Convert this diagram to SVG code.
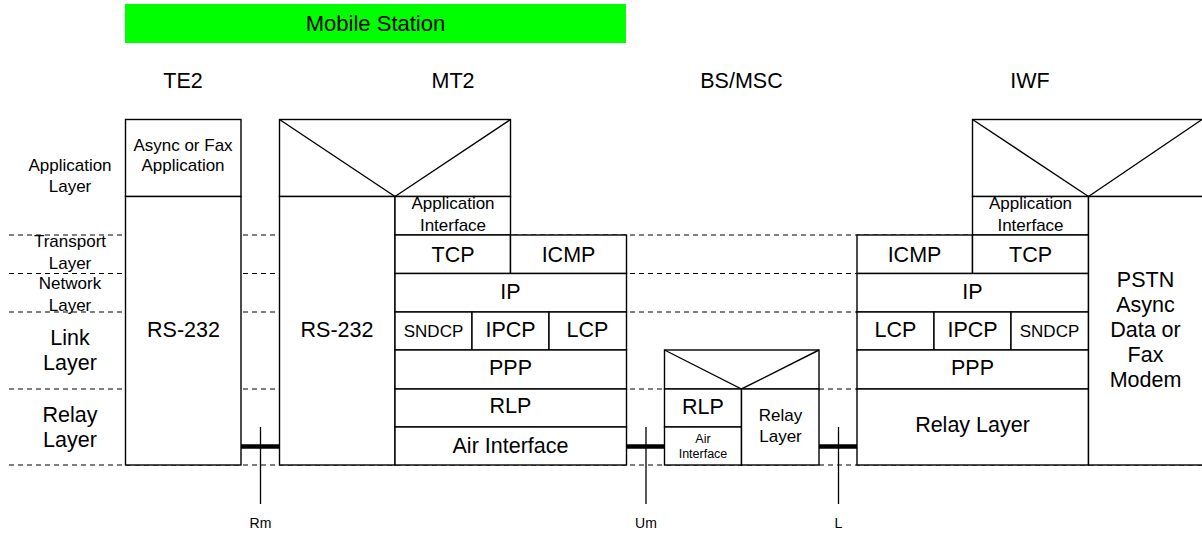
<svg xmlns="http://www.w3.org/2000/svg" width="1202" height="533" viewBox="0 0 1202 533">
<style>
text{font-family:"Liberation Sans",Arial,Helvetica,sans-serif;fill:#000;text-anchor:middle}
.L{font-size:21.5px}
.M{font-size:17px}
.S{font-size:12.5px}
.T{font-size:14px}
.box{fill:#fff;stroke:#000;stroke-width:1.4}
.ln{fill:none;stroke:#000;stroke-width:1.4}
.dash{fill:none;stroke:#000;stroke-width:1;stroke-dasharray:5 4}
.thick{stroke:#000;stroke-width:4.5}
.tick{stroke:#000;stroke-width:1.3}
</style>
<rect x="125" y="4" width="501" height="39" fill="#00ff00"/>
<text class="L" x="375.5" y="30.5" style="font-size:22px">Mobile Station</text>
<text class="L" x="183" y="88">TE2</text>
<text class="L" x="453" y="88">MT2</text>
<text class="L" x="741.5" y="88">BS/MSC</text>
<text class="L" x="1030" y="88">IWF</text>
<g id="layer-separators">
<line class="dash" x1="9" y1="235" x2="1202" y2="235"/>
<line class="dash" x1="9" y1="273.5" x2="1202" y2="273.5"/>
<line class="dash" x1="9" y1="312" x2="1202" y2="312"/>
<line class="dash" x1="9" y1="389" x2="1202" y2="389"/>
<line class="dash" x1="9" y1="465" x2="1202" y2="465"/>
</g>
<g id="layer-labels">
<text class="M" x="70" y="170.5">Application</text>
<text class="M" x="70" y="192">Layer</text>
<text class="M" x="70" y="247">Transport</text>
<text class="M" x="70" y="268.5">Layer</text>
<text class="M" x="70" y="289">Network</text>
<text class="M" x="70" y="310.5">Layer</text>
<text class="L" x="70" y="344.5">Link</text>
<text class="L" x="70" y="370">Layer</text>
<text class="L" x="70" y="421.5">Relay</text>
<text class="L" x="70" y="446.5">Layer</text>
</g>
<g id="te2-app">
<rect class="box" x="125.5" y="119.5" width="115.5" height="77"/>
<text class="M" x="183" y="150.5">Async or Fax</text>
<text class="M" x="183" y="170.5">Application</text>
</g>
<g id="te2-rs232">
<rect class="box" x="125.5" y="196.5" width="115.5" height="268.5"/>
<text class="L" x="183.5" y="336.7">RS-232</text>
</g>
<g id="mt2-app">
<rect class="box" x="279.5" y="119.5" width="231" height="77"/>
<polyline class="ln" points="279.5,119.5 395,196.5 510.5,119.5"/>
</g>
<g id="mt2-rs232">
<rect class="box" x="279.5" y="196.5" width="115.5" height="268.5"/>
<text class="L" x="337" y="336.7">RS-232</text>
</g>
<g id="mt2-appif">
<rect class="box" x="395" y="196.5" width="115.5" height="38.5"/>
<text class="M" x="453" y="209">Application</text>
<text class="M" x="453" y="230.5">Interface</text>
</g>
<g id="mt2-tcp">
<rect class="box" x="395" y="235" width="115.5" height="38.5"/>
<text class="L" x="453" y="261.7">TCP</text>
</g>
<g id="mt2-icmp">
<rect class="box" x="510.5" y="235" width="116" height="38.5"/>
<text class="L" x="568.5" y="261.7">ICMP</text>
</g>
<g id="mt2-ip">
<rect class="box" x="395" y="273.5" width="231.5" height="38.5"/>
<text class="L" x="510.5" y="298.5">IP</text>
</g>
<g id="mt2-sndcp">
<rect class="box" x="395" y="312" width="77" height="38"/>
<text class="M" x="433.5" y="336.7">SNDCP</text>
</g>
<g id="mt2-ipcp">
<rect class="box" x="472" y="312" width="77" height="38"/>
<text class="L" x="510.5" y="336.7">IPCP</text>
</g>
<g id="mt2-lcp">
<rect class="box" x="549" y="312" width="77.5" height="38"/>
<text class="L" x="587.5" y="336.7">LCP</text>
</g>
<g id="mt2-ppp">
<rect class="box" x="395" y="350" width="231.5" height="39"/>
<text class="L" x="510.5" y="375">PPP</text>
</g>
<g id="mt2-rlp">
<rect class="box" x="395" y="389" width="231.5" height="38"/>
<text class="L" x="510.5" y="413.3">RLP</text>
</g>
<g id="mt2-air">
<rect class="box" x="395" y="427" width="231.5" height="38"/>
<text class="L" x="510.5" y="452.7">Air Interface</text>
</g>
<g id="bs-top">
<rect class="box" x="664.5" y="350" width="154.5" height="39"/>
<polyline class="ln" points="664.5,350 741.5,389 819,350"/>
</g>
<g id="bs-rlp">
<rect class="box" x="664.5" y="389" width="77" height="38"/>
<text class="L" x="703" y="414">RLP</text>
</g>
<g id="bs-air">
<rect class="box" x="664.5" y="427" width="77" height="38"/>
<text class="S" x="703" y="443.3">Air</text>
<text class="S" x="703" y="457.7">Interface</text>
</g>
<g id="bs-relay">
<rect class="box" x="741.5" y="389" width="77.5" height="76"/>
<text class="M" x="780.5" y="421">Relay</text>
<text class="M" x="780.5" y="442">Layer</text>
</g>
<g id="iwf-app">
<rect class="box" x="972.5" y="119.5" width="231" height="77"/>
<polyline class="ln" points="972.5,119.5 1088.5,196.5 1202,119.5"/>
</g>
<g id="iwf-appif">
<rect class="box" x="972.5" y="196.5" width="116" height="38.5"/>
<text class="M" x="1030.5" y="209">Application</text>
<text class="M" x="1030.5" y="230.5">Interface</text>
</g>
<g id="iwf-icmp">
<rect class="box" x="857" y="235" width="115.5" height="38.5"/>
<text class="L" x="914.5" y="261.7">ICMP</text>
</g>
<g id="iwf-tcp">
<rect class="box" x="972.5" y="235" width="116" height="38.5"/>
<text class="L" x="1030.5" y="261.7">TCP</text>
</g>
<g id="iwf-ip">
<rect class="box" x="857" y="273.5" width="231.5" height="38.5"/>
<text class="L" x="972.5" y="298.5">IP</text>
</g>
<g id="iwf-lcp">
<rect class="box" x="857" y="312" width="77" height="38"/>
<text class="L" x="895.5" y="336.7">LCP</text>
</g>
<g id="iwf-ipcp">
<rect class="box" x="934" y="312" width="77" height="38"/>
<text class="L" x="972.5" y="336.7">IPCP</text>
</g>
<g id="iwf-sndcp">
<rect class="box" x="1011" y="312" width="77.5" height="38"/>
<text class="M" x="1049.5" y="336.7">SNDCP</text>
</g>
<g id="iwf-ppp">
<rect class="box" x="857" y="350" width="231.5" height="39"/>
<text class="L" x="972.5" y="375">PPP</text>
</g>
<g id="iwf-relay">
<rect class="box" x="857" y="389" width="231.5" height="76"/>
<text class="L" x="972.5" y="432">Relay Layer</text>
</g>
<g id="iwf-pstn">
<rect class="box" x="1088.5" y="196.5" width="115" height="268.5"/>
<text class="L" x="1145.5" y="286.5">PSTN</text>
<text class="L" x="1145.5" y="311.5">Async</text>
<text class="L" x="1145.5" y="336.5">Data or</text>
<text class="L" x="1145.5" y="361.5">Fax</text>
<text class="L" x="1145.5" y="386.5">Modem</text>
</g>
<g id="connectors">
<line class="thick" x1="241" y1="446.5" x2="279.5" y2="446.5"/>
<line class="thick" x1="626.5" y1="446.5" x2="664.5" y2="446.5"/>
<line class="thick" x1="819" y1="446.5" x2="857" y2="446.5"/>
<line class="tick" x1="260.5" y1="427" x2="260.5" y2="504"/>
<line class="tick" x1="646" y1="427" x2="646" y2="504"/>
<line class="tick" x1="838.5" y1="427" x2="838.5" y2="504"/>
<text class="T" x="260.5" y="528">Rm</text>
<text class="T" x="646" y="528">Um</text>
<text class="T" x="838.5" y="528">L</text>
</g>
</svg>
